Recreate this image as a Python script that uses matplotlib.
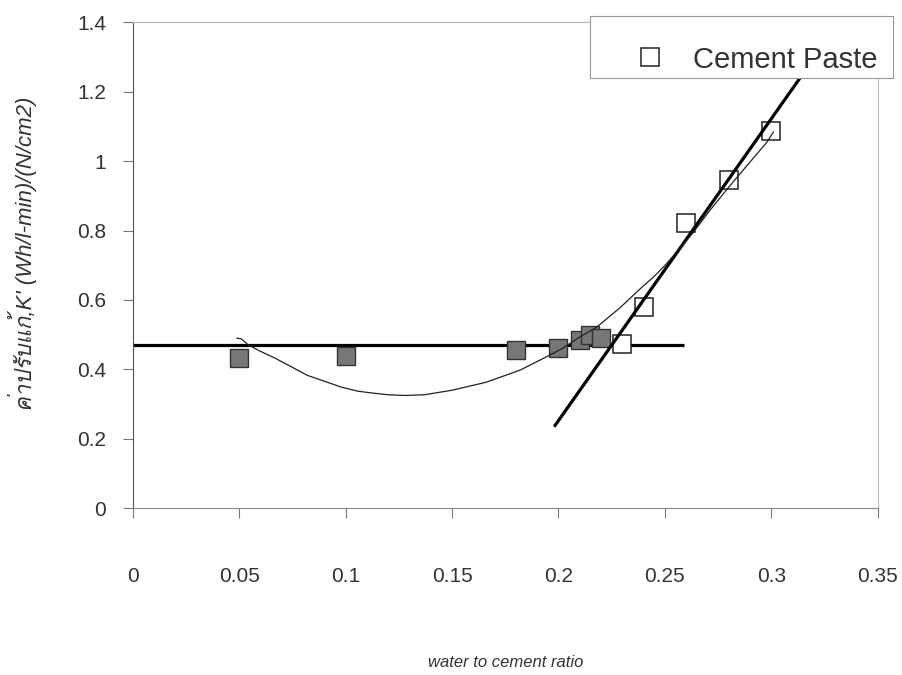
import matplotlib
matplotlib.use("Agg")
import matplotlib.pyplot as plt
from matplotlib import font_manager
from matplotlib.ft2font import FT2Font
from matplotlib.patches import Rectangle
from matplotlib.ticker import FuncFormatter


def find_thai_family():
    # look for any installed font that carries Thai glyphs
    for f in font_manager.fontManager.ttflist:
        try:
            if 0x0E04 in FT2Font(f.fname).get_charmap():
                return f.name
        except Exception:
            continue
    return None


# gray (filled) points and the Cement Paste (open) points
gray_x = [0.05, 0.10, 0.18, 0.20, 0.21, 0.215, 0.22]
gray_y = [0.432, 0.438, 0.455, 0.463, 0.485, 0.50, 0.49]

paste_x = [0.23, 0.24, 0.26, 0.28, 0.30]
paste_y = [0.473, 0.579, 0.821, 0.945, 1.087]

# flat trend line and steep trend line
flat_x = [0.0, 0.259]
flat_y = [0.47, 0.47]
steep_x = [0.198, 0.34]
steep_y = [0.235, 1.47]

# thin trend curve through all points
curve_x = [0.049, 0.051, 0.054, 0.059, 0.067, 0.075, 0.082, 0.090, 0.098, 0.106,
           0.114, 0.120, 0.128, 0.137, 0.150, 0.166, 0.182, 0.194, 0.202, 0.210,
           0.218, 0.229, 0.238, 0.245, 0.251, 0.257, 0.263, 0.271, 0.280, 0.288,
           0.298, 0.301]
curve_y = [0.490, 0.488, 0.472, 0.455, 0.432, 0.406, 0.383, 0.366, 0.349, 0.337,
           0.331, 0.327, 0.325, 0.327, 0.340, 0.363, 0.398, 0.435, 0.461, 0.493,
           0.522, 0.578, 0.630, 0.668, 0.706, 0.748, 0.792, 0.857, 0.925, 0.983,
           1.055, 1.084]

x_ticks = [0, 0.05, 0.1, 0.15, 0.2, 0.25, 0.3, 0.35]
y_ticks = [0, 0.2, 0.4, 0.6, 0.8, 1.0, 1.2, 1.4]

x_title = "water to cement ratio"
y_title = "ค่าปรับแก้,K' (Wh/l-min)/(N/cm2)"

base = "Liberation Sans"
thai = find_thai_family()
families = [base] + ([thai] if thai else []) + ["DejaVu Sans"]
plt.rcParams["font.family"] = families

fig = plt.figure(figsize=(9.03, 6.75), dpi=100)
ax = fig.add_axes([0.147, 0.247, 0.825, 0.72])

ax.plot(flat_x, flat_y, color="black", lw=2.3, zorder=2, solid_capstyle="butt")
ax.plot(gray_x, gray_y, ls="none", marker="s", ms=12.5, mfc="#777777",
        mec="#333333", mew=1.0, zorder=3, label="_nolegend_")
ax.plot(paste_x, paste_y, ls="none", marker="s", ms=12.5, mfc="white",
        mec="#222222", mew=1.1, zorder=3, label="Cement Paste")
ax.plot(steep_x, steep_y, color="black", lw=2.3, zorder=4, solid_capstyle="butt")
ax.plot(curve_x, curve_y, color="#222222", lw=0.9, zorder=5)

ax.set_xlim(0, 0.35)
ax.set_ylim(0, 1.4)
ax.set_xticks(x_ticks)
ax.set_yticks(y_ticks)
fmt = FuncFormatter(lambda v, p: "%g" % round(v, 3))
ax.xaxis.set_major_formatter(fmt)
ax.yaxis.set_major_formatter(fmt)

ax.tick_params(axis="x", direction="out", length=7, width=0.8, color="#777777",
               pad=35, labelsize=15, labelcolor="#333333")
ax.tick_params(axis="y", direction="out", length=7, width=0.8, color="#777777",
               pad=12, labelsize=15, labelcolor="#333333")

ax.spines["left"].set_color("#555555")
ax.spines["bottom"].set_color("#888888")
for side in ("top", "right"):
    ax.spines[side].set_color("#bbbbbb")
    ax.spines[side].set_linewidth(0.8)

ax.set_xlabel(x_title, fontsize=12, style="italic", color="#333333", labelpad=50)
ax.set_ylabel(y_title, fontsize=16, style="italic", color="#333333")
ax.yaxis.set_label_coords(-0.128, 0.523)

# legend box sticks out past the right edge of the plot
box = Rectangle((0.6134, 0.8848), 0.4067, 0.1275, transform=ax.transAxes,
                facecolor="white", edgecolor="#999999", lw=0.8,
                clip_on=False, zorder=9)
ax.add_patch(box)
leg = ax.legend(loc="center left", bbox_to_anchor=(0.6745, 0.923), fontsize=21,
                frameon=False, handlelength=1.0, handletextpad=0.98,
                borderpad=0, borderaxespad=0, labelcolor="#333333")
leg.set_zorder(10)

fig.savefig("out.png", dpi=100)
